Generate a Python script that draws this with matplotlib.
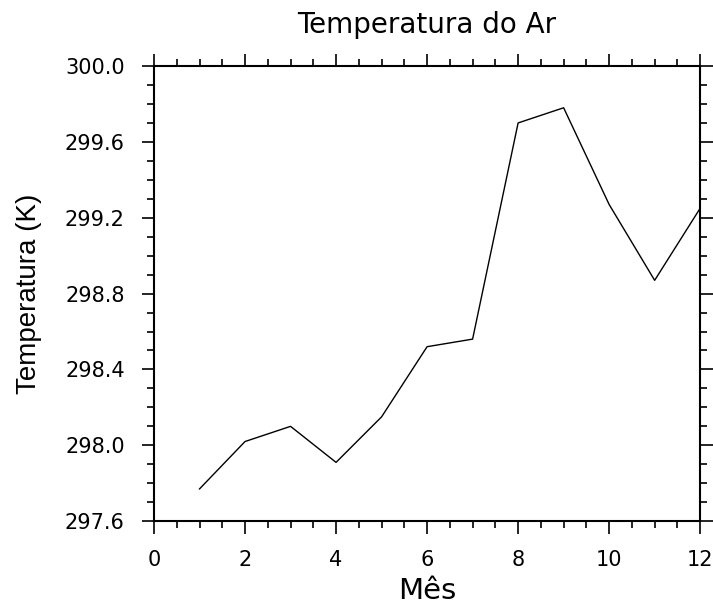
import matplotlib
matplotlib.use("Agg")
import matplotlib.pyplot as plt
from matplotlib.ticker import MultipleLocator

months = [1, 2, 3, 4, 5, 6, 7, 8, 9, 10, 11, 12]
temperature = [297.77, 298.02, 298.10, 297.91, 298.15, 298.52,
               298.56, 299.70, 299.78, 299.27, 298.87, 299.25]

plt.rcParams["font.family"] = ["DejaVu Sans"]


def main():
    fig = plt.figure(figsize=(7.13, 6.06), dpi=100)
    ax = fig.add_axes([0.216, 0.140, 0.766, 0.751])

    ax.plot(months, temperature, color="black", linewidth=1.0)

    ax.set_xlim(0, 12)
    ax.set_ylim(297.6, 300.0)
    ax.xaxis.set_major_locator(MultipleLocator(2))
    ax.xaxis.set_minor_locator(MultipleLocator(0.5))
    ax.yaxis.set_major_locator(MultipleLocator(0.4))
    ax.yaxis.set_minor_locator(MultipleLocator(0.1))
    ax.yaxis.set_major_formatter(plt.FormatStrFormatter("%.1f"))

    ax.tick_params(which="both", direction="out", top=True, right=True,
                   width=1.2, labelsize=15, pad=12)
    ax.tick_params(which="major", length=9)
    ax.tick_params(which="minor", length=4.7)
    for spine in ax.spines.values():
        spine.set_linewidth(1.5)

    ax.set_title("Temperatura do Ar", fontsize=20, pad=24)
    ax.set_xlabel("Mês", fontsize=21, labelpad=5)
    ax.set_ylabel("Temperatura (K)", fontsize=20,
                  family=["Liberation Sans", "DejaVu Sans"])
    ax.yaxis.set_label_coords(-0.205, 0.5)

    fig.savefig("out.png", dpi=100)
    plt.close(fig)


if __name__ == "__main__":
    main()
